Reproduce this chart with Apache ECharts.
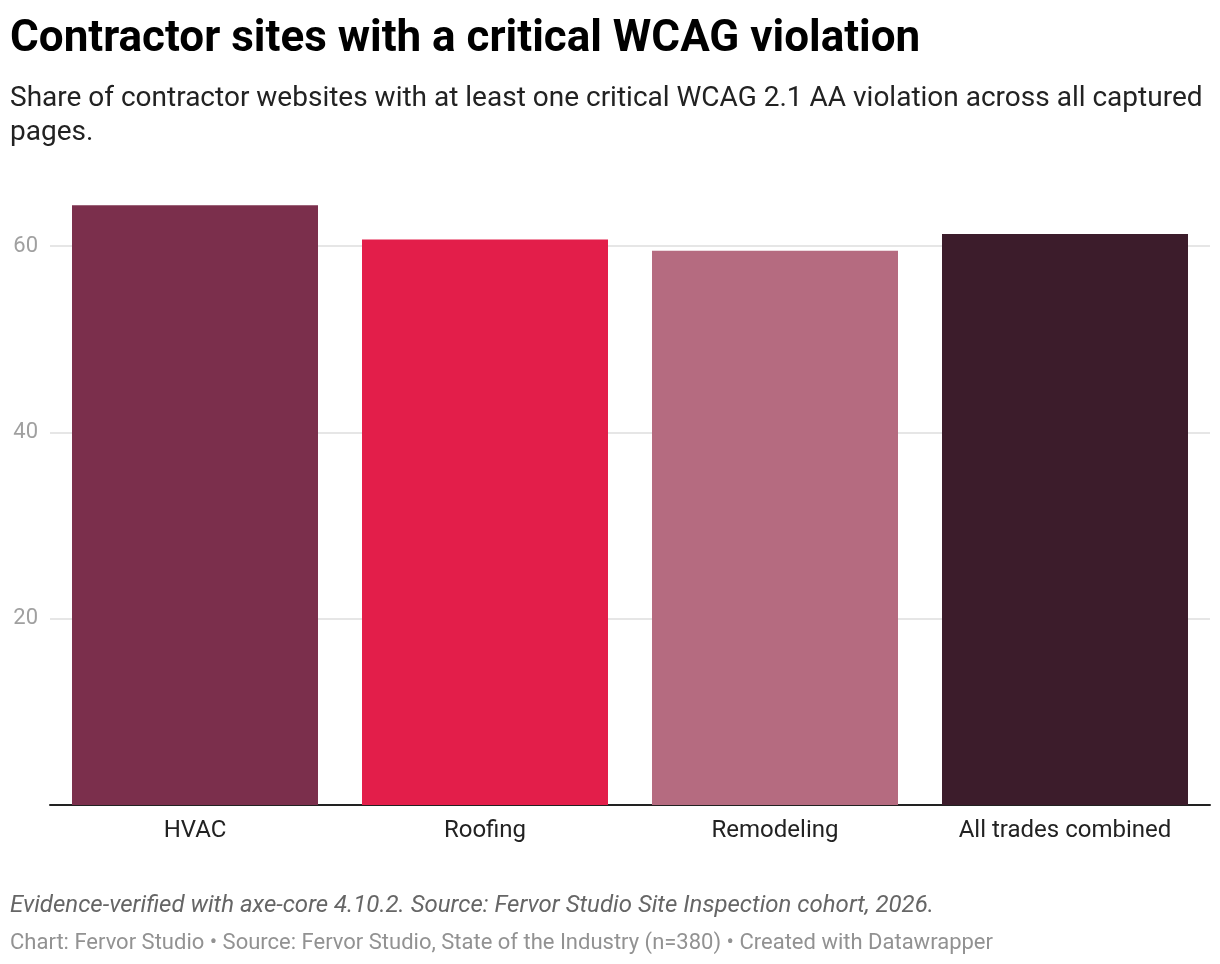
<!DOCTYPE html>
<html>
<head>
<meta charset="utf-8">
<script src="https://cdn.jsdelivr.net/npm/echarts@6/dist/echarts.min.js"></script>
<style>
  html, body { margin: 0; padding: 0; background: #fff; }
  #chart { width: 1220px; height: 964px; }
</style>
</head>
<body>
<div id="chart"></div>
<script>
// categories and values (share of sites, %)
var trades = ['HVAC', 'Roofing', 'Remodeling', 'All trades combined'];
var shares = [64.4, 60.7, 59.5, 61.3];
var barColors = ['#7b2f4c', '#e31e4a', '#b56b80', '#3c1c2b'];
var yTicks = [20, 40, 60];

var chart = echarts.init(document.getElementById('chart'));

var option = {
  backgroundColor: '#fff',
  textStyle: { fontFamily: 'Roboto' },
  title: [{
    text: 'Contractor sites with a critical WCAG violation',
    left: 10,
    top: 18,
    padding: 0,
    textStyle: { fontSize: 44, fontWeight: 'bold', color: '#000', fontFamily: 'Roboto' }
  }, {
    text: 'Share of contractor websites with at least one critical WCAG 2.1 AA violation across all captured\npages.',
    left: 10,
    top: 82,
    padding: 0,
    textStyle: { fontSize: 28, fontWeight: 'normal', color: '#222', lineHeight: 34, fontFamily: 'Roboto' }
  }, {
    text: 'Evidence-verified with axe-core 4.10.2. Source: Fervor Studio Site Inspection cohort, 2026.',
    left: 10,
    top: 894,
    padding: 0,
    textStyle: { fontSize: 24, fontWeight: 'normal', fontStyle: 'italic', color: '#666', fontFamily: 'Roboto' }
  }, {
    text: 'Chart: Fervor Studio \u2022 Source: Fervor Studio, State of the Industry (n=380) \u2022 Created with Datawrapper',
    left: 10,
    top: 932,
    padding: 0,
    textStyle: { fontSize: 22, fontWeight: 'normal', color: '#929292', fontFamily: 'Roboto' }
  }],
  grid: { left: 50, right: 10, top: 153, bottom: 159, containLabel: false },
  xAxis: {
    type: 'category',
    data: trades,
    axisLine: { lineStyle: { color: '#222', width: 2 } },
    axisTick: { show: false },
    axisLabel: { fontSize: 24, color: '#222', margin: 14, fontFamily: 'Roboto' }
  },
  yAxis: {
    type: 'value',
    min: 0,
    max: 70,
    interval: 20,
    axisLine: { show: false },
    axisTick: { show: false },
    axisLabel: {
      fontSize: 22,
      color: '#a0a0a0',
      margin: 12,
      fontFamily: 'Roboto',
      formatter: function (v) { return yTicks.indexOf(v) > -1 ? String(v) : ''; }
    },
    splitLine: {
      lineStyle: { color: ['#e6e6e6', '#e6e6e6', '#e6e6e6', '#e6e6e6', 'rgba(0,0,0,0)'], width: 2 }
    }
  },
  series: [{
    type: 'bar',
    barWidth: 246,
    data: shares.map(function (v, i) {
      return { value: v, itemStyle: { color: barColors[i] } };
    }),
    animation: false
  }],
  animation: false
};

chart.setOption(option);
</script>
</body>
</html>
